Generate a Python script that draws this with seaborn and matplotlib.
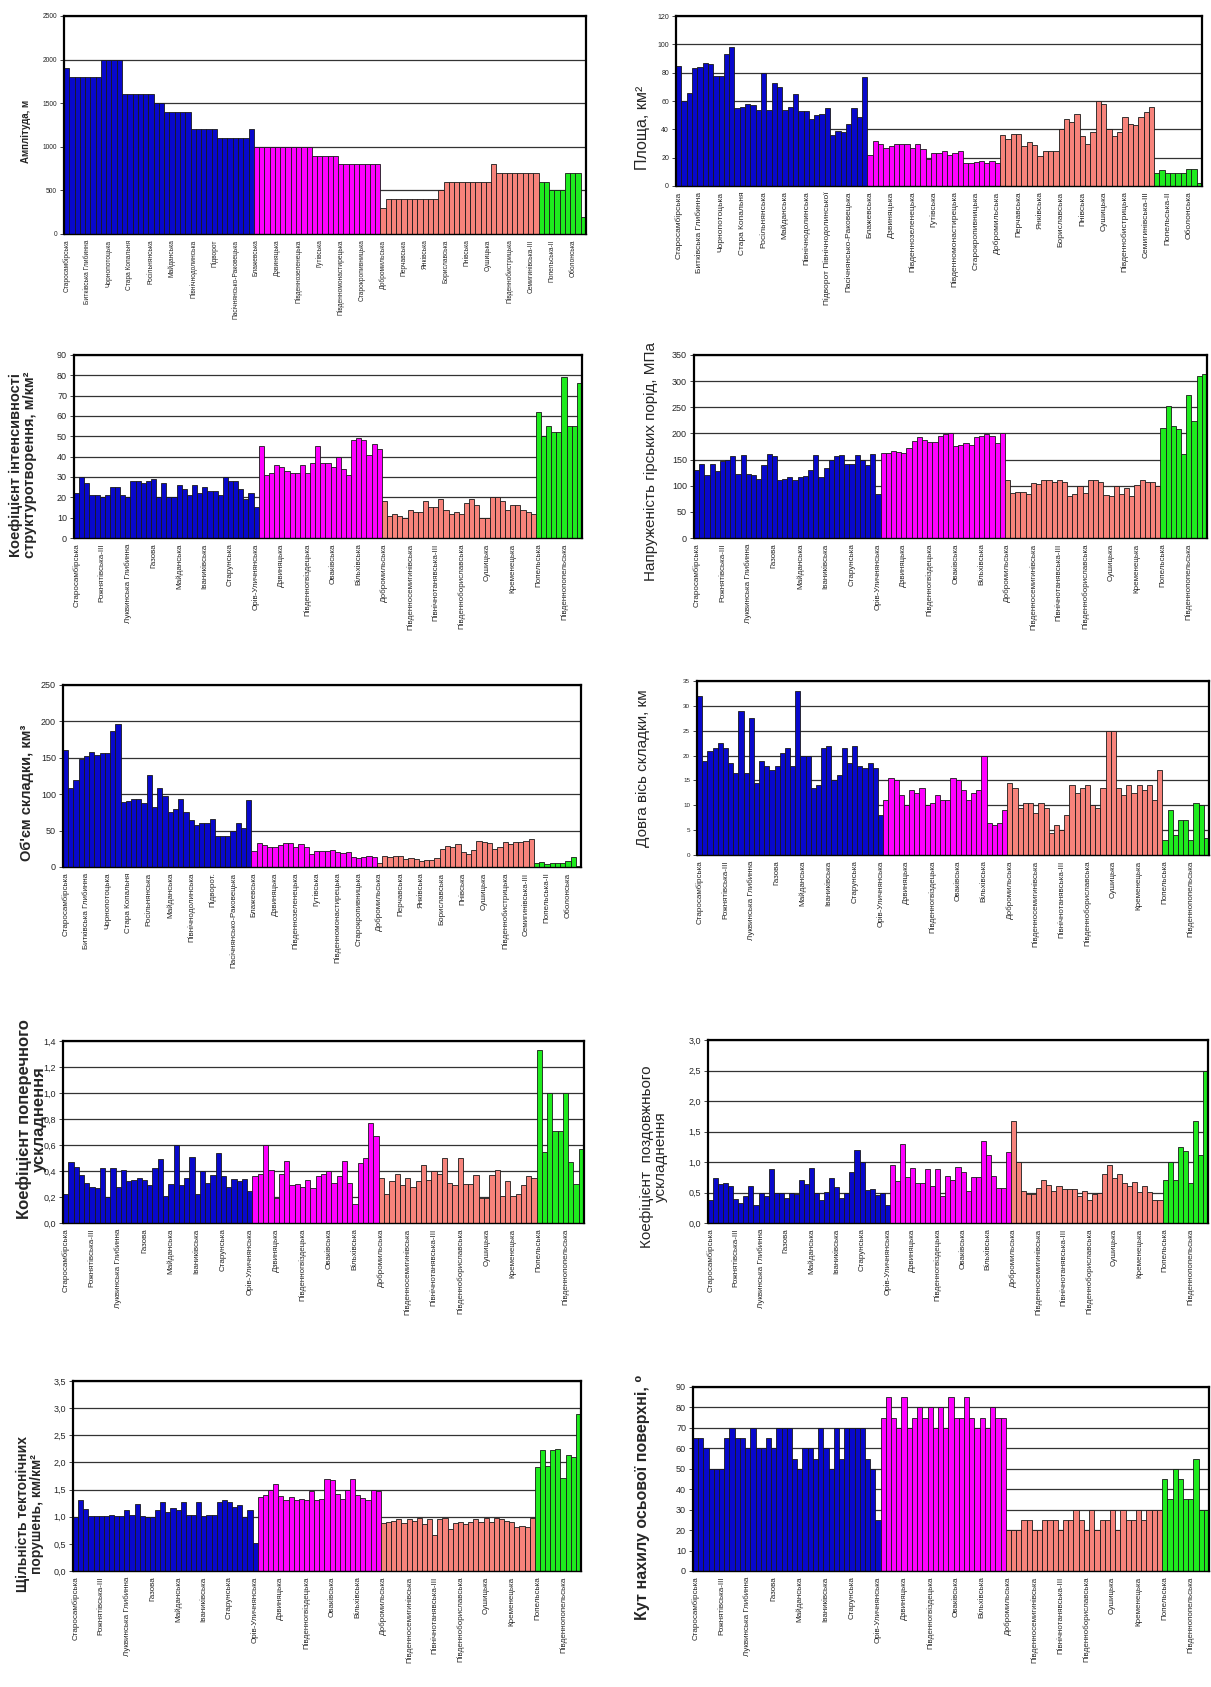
import numpy as np
import pandas as pd
import matplotlib
matplotlib.use("Agg")
import matplotlib.pyplot as plt
import seaborn as sns
from matplotlib.ticker import FuncFormatter

sns.set_style("white")
plt.rcParams['font.family'] = ['Liberation Sans', 'DejaVu Sans']

# --- підписи структур ---
labels_a = ["Старосамбірська", "Битківська Глибинна", "Чорнопотоцька", "Стара Копальня",
            "Росільнянська", "Майданська", "Північнодолинська", "Підворот",
            "Пасічнянсько-Раковецька", "Блажевська", "Дзвиняцька", "Південнозеленецька",
            "Гутівська", "Південномонастирецька", "Старокропивницька", "Добромильська",
            "Перчавська", "Янківська", "Бориславська", "Пнівська", "Сушицька",
            "Південнобистрицька", "Семигинівська-III", "Попельська-II", "Оболонська"]
labels_a2 = labels_a[:7] + ["Підворот Північнодолинської"] + labels_a[8:]
labels_a5 = labels_a[:7] + ["Підворот."] + labels_a[8:]

labels_b = ["Старосамбірська", "Рожнятівська-III", "Луквинська Глибинна", "Газова",
            "Майданська", "Іваниківська", "Старунська", "Орів-Уличнянська", "Дзвиняцька",
            "Південногвіздецька", "Оваківська", "Вільхівська", "Добромильська",
            "Південносемигинівська", "Північнотанявська-III", "Південнобориславська",
            "Сушицька", "Кременецька", "Попельська", "Південнопопельська"]

# кількість структур у зонах (синя, пурпурова, рожева, зелена)
zones = [36, 24, 30, 9]
zones_area = [36, 25, 29, 9]

# --- значення ---
amplitude = [1900, 1800, 1800, 1800, 1800, 1800, 1800, 2000, 2000, 2000, 2000,
             1600, 1600, 1600, 1600, 1600, 1600, 1500, 1500, 1400, 1400, 1400, 1400, 1400,
             1200, 1200, 1200, 1200, 1200, 1100, 1100, 1100, 1100, 1100, 1100, 1200,
             1000, 1000, 1000, 1000, 1000, 1000, 1000, 1000, 1000, 1000, 1000,
             900, 900, 900, 900, 900, 800, 800, 800, 800, 800, 800, 800, 800,
             300, 400, 400, 400, 400, 400, 400, 400, 400, 400, 400, 500,
             600, 600, 600, 600, 600, 600, 600, 600, 600, 800,
             700, 700, 700, 700, 700, 700, 700, 700,
             600, 600, 500, 500, 500, 700, 700, 700, 200]

area = [85, 60, 66, 83, 84, 87, 86, 78, 78, 93, 98, 55, 56, 58, 57, 54, 80, 54, 73, 70,
        54, 56, 65, 53, 53, 47, 50, 51, 55, 36, 39, 38, 44, 55, 49, 77,
        22, 32, 30, 27, 28, 30, 30, 30, 27, 30, 26, 19, 23, 23, 25, 22, 23, 25,
        16, 16, 17, 18, 16, 18, 16,
        36, 33, 37, 37, 28, 31, 29, 21, 25, 25, 25, 40, 47, 45, 51, 35, 30, 38,
        60, 58, 40, 35, 38, 49, 44, 43, 49, 52, 56,
        9, 11, 9, 9, 9, 9, 12, 12, 2]

intensity = [22, 30, 27, 21, 21, 20, 21, 25, 25, 21, 20, 28, 28, 27, 28, 29, 20, 27,
             20, 20, 26, 24, 21, 26, 22, 25, 23, 23, 21, 30, 28, 28, 24, 19, 22, 15,
             45, 31, 32, 36, 35, 33, 32, 32, 36, 32, 37, 45, 37, 37, 35, 40, 34, 31,
             48, 49, 48, 41, 46, 44,
             18, 11, 12, 11, 10, 14, 13, 13, 18, 15, 15, 19, 14, 12, 13, 12, 17, 19,
             16, 10, 10, 20, 20, 18, 14, 16, 16, 14, 13, 12,
             62, 50, 55, 52, 52, 79, 55, 55, 76]

stress = [130, 142, 120, 141, 128, 147, 149, 157, 122, 159, 122, 120, 112, 139, 160,
          157, 110, 112, 116, 110, 116, 118, 130, 159, 117, 134, 150, 157, 159, 142,
          141, 159, 149, 139, 160, 85,
          162, 162, 166, 164, 162, 172, 186, 194, 188, 184, 184, 196, 198, 200, 175,
          178, 181, 178, 193, 196, 198, 196, 181, 201,
          110, 87, 88, 88, 84, 105, 103, 110, 110, 108, 110, 108, 80, 85, 100, 87,
          110, 110, 108, 82, 80, 100, 84, 95, 80, 102, 110, 107, 108, 100,
          211, 253, 214, 208, 161, 274, 223, 310, 313]

volume = [161, 108, 119, 149, 152, 158, 154, 157, 157, 187, 197, 89, 90, 94, 93, 88,
          127, 82, 109, 97, 76, 80, 93, 76, 64, 58, 60, 61, 66, 42, 42, 42, 50, 60, 54, 92,
          22, 33, 30, 28, 28, 30, 33, 33, 28, 31, 27, 18, 22, 22, 22, 23, 21, 19, 21,
          14, 12, 14, 15, 14,
          5, 15, 14, 15, 15, 11, 12, 11, 8, 10, 10, 12, 25, 29, 28, 31, 21, 18, 23,
          36, 35, 33, 25, 27, 35, 32, 35, 35, 36, 39,
          6, 7, 4, 5, 5, 6, 8, 14, 1]

long_axis = [32, 19, 21, 21.5, 22.5, 21.5, 18.5, 16.5, 29, 16.5, 27.5, 14.5, 19, 18, 17,
             18, 20.5, 21.5, 18, 33, 20, 20, 13.5, 14, 21.5, 22, 15, 16, 21.5, 18.5, 22,
             18, 17.5, 18.5, 17.5, 8,
             11, 15.5, 15, 12, 10, 13, 12.5, 13.5, 10, 10.5, 12, 11, 11, 15.5, 15, 13,
             11, 12.5, 13, 20, 6.5, 6, 6.5, 9,
             14.5, 13.5, 9.5, 10.5, 10.5, 8.5, 10.5, 9.5, 4.5, 6, 5, 8, 14, 12.5, 13.5,
             14, 10, 9.5, 13.5, 25, 25, 13.5, 12, 14, 12.5, 14, 13, 14, 11, 17,
             3, 9, 4, 7, 7, 3, 10.5, 10, 3.5]

transverse = [0.22, 0.47, 0.43, 0.37, 0.31, 0.28, 0.27, 0.42, 0.20, 0.42, 0.28, 0.41,
              0.32, 0.33, 0.35, 0.33, 0.29, 0.42, 0.49, 0.21, 0.30, 0.60, 0.29, 0.35,
              0.51, 0.22, 0.40, 0.31, 0.37, 0.54, 0.36, 0.28, 0.34, 0.32, 0.34, 0.25,
              0.36, 0.38, 0.60, 0.41, 0.19, 0.38, 0.48, 0.29, 0.30, 0.28, 0.33, 0.27,
              0.36, 0.38, 0.40, 0.31, 0.36, 0.48, 0.31, 0.15, 0.46, 0.50, 0.77, 0.67,
              0.35, 0.22, 0.32, 0.38, 0.29, 0.35, 0.28, 0.32, 0.45, 0.33, 0.40, 0.38,
              0.50, 0.31, 0.29, 0.50, 0.30, 0.30, 0.37, 0.19, 0.19, 0.37, 0.41, 0.21,
              0.32, 0.21, 0.22, 0.29, 0.36, 0.35,
              1.33, 0.55, 1.00, 0.71, 0.71, 1.00, 0.47, 0.30, 0.57]

longitudinal = [0.37, 0.74, 0.64, 0.65, 0.60, 0.40, 0.32, 0.45, 0.60, 0.29, 0.49, 0.44,
                0.89, 0.49, 0.49, 0.41, 0.49, 0.47, 0.71, 0.64, 0.90, 0.49, 0.37, 0.51,
                0.74, 0.59, 0.41, 0.49, 0.83, 1.20, 1.00, 0.54, 0.56, 0.46, 0.49, 0.30,
                0.95, 0.69, 1.30, 0.75, 0.90, 0.66, 0.66, 0.88, 0.60, 0.89, 0.45, 0.77,
                0.71, 0.91, 0.83, 0.53, 0.76, 0.76, 1.34, 1.11, 0.77, 0.57, 0.58, 1.17,
                1.67, 1.00, 0.52, 0.48, 0.48, 0.58, 0.70, 0.63, 0.53, 0.60, 0.55, 0.56,
                0.56, 0.44, 0.53, 0.37, 0.48, 0.50, 0.80, 0.95, 0.74, 0.80, 0.65, 0.60,
                0.68, 0.51, 0.61, 0.51, 0.38, 0.38,
                0.70, 1.00, 0.71, 1.25, 1.18, 0.65, 1.67, 1.11, 2.50]

density = [1.00, 1.30, 1.15, 1.01, 1.01, 1.01, 1.01, 1.03, 1.02, 1.02, 1.12, 1.03,
           1.23, 1.01, 1.00, 1.00, 1.13, 1.28, 1.09, 1.16, 1.12, 1.27, 1.03, 1.03,
           1.28, 1.01, 1.03, 1.03, 1.28, 1.30, 1.28, 1.18, 1.22, 1.00, 1.12, 0.51,
           1.37, 1.40, 1.50, 1.60, 1.38, 1.30, 1.36, 1.30, 1.33, 1.30, 1.47, 1.30,
           1.32, 1.69, 1.67, 1.42, 1.32, 1.50, 1.69, 1.40, 1.35, 1.30, 1.50, 1.48,
           0.88, 0.90, 0.92, 0.96, 0.88, 0.95, 0.93, 0.98, 0.86, 0.95, 0.66, 0.95,
           0.98, 0.78, 0.88, 0.91, 0.86, 0.91, 0.96, 0.91, 0.98, 0.91, 0.98, 0.95,
           0.93, 0.90, 0.81, 0.83, 0.81, 0.98,
           1.91, 2.22, 1.94, 2.22, 2.25, 1.71, 2.14, 2.10, 2.89]

angle = [65, 65, 60, 50, 50, 50, 65, 70, 65, 65, 60, 70, 60, 60, 65, 60, 70, 70, 70,
         55, 50, 60, 60, 55, 70, 60, 50, 70, 55, 70, 70, 70, 70, 55, 50, 25,
         75, 85, 75, 70, 85, 70, 75, 80, 75, 80, 70, 80, 70, 85, 75, 75, 85, 75, 70,
         75, 70, 80, 75, 75,
         20, 20, 20, 25, 25, 20, 20, 25, 25, 25, 20, 25, 25, 30, 25, 20, 30, 20, 25,
         25, 30, 20, 30, 25, 25, 30, 25, 30, 30, 30,
         45, 35, 50, 45, 35, 35, 55, 30, 30]

palette = {"z1": "#0808CC", "z2": "#FF00FF", "z3": "#F7837B", "z4": "#1EEB1E"}

W, H = 1211, 1687
fig = plt.figure(figsize=(W / 100, H / 100), dpi=100)


def panel(box, values, zone_sizes, labels, step, ymax, ystep, ylabel, lab_size,
          lab_bold, lab_x, lab_y, tick_fs, xfs, decimals=0):
    x0, y0, x1, y1 = box
    ax = fig.add_axes([x0 / W, 1 - y1 / H, (x1 - x0) / W, (y1 - y0) / H])
    n = len(values)
    df = pd.DataFrame({
        "idx": np.arange(n),
        "val": values,
        "zone": np.repeat(["z1", "z2", "z3", "z4"], zone_sizes),
    })
    sns.barplot(data=df, x="idx", y="val", hue="zone", palette=palette, dodge=False,
                width=1.0, saturation=1, edgecolor="#1a1a1a", linewidth=0.6,
                legend=False, ax=ax)
    ax.set_xlim(-0.5, n - 0.5)
    ax.set_ylim(0, ymax)
    ax.set_yticks(np.arange(0, ymax + ystep / 2, ystep))
    if decimals:
        ax.yaxis.set_major_formatter(FuncFormatter(
            lambda v, p: f"{v:.{decimals}f}".replace(".", ",")))
    ax.set_xticks(np.arange(0, n, step)[:len(labels)])
    ax.set_xticklabels(labels, rotation=90, fontsize=xfs)
    ax.set_xticks(np.arange(-0.5, n, 1), minor=True)
    ax.tick_params(axis="x", which="major", length=0, pad=4)
    ax.tick_params(axis="x", which="minor", length=3, width=0.6, color="#222")
    ax.tick_params(axis="y", length=3, width=0.6, labelsize=tick_fs, pad=2, left=True)
    ax.yaxis.grid(True, color="#333333", linewidth=0.9)
    ax.set_axisbelow(True)
    for s in ax.spines.values():
        s.set_color("black")
        s.set_linewidth(1.6)
    ax.spines["bottom"].set_linewidth(1.0)
    ax.set_xlabel("")
    ax.set_ylabel(ylabel, fontsize=lab_size, fontweight="bold" if lab_bold else "normal",
                  va="center", ha="center", linespacing=1.0)
    ax.yaxis.set_label_coords(lab_x, lab_y)
    return ax


panel((64, 16, 586, 234), amplitude, zones, labels_a, 4, 2500, 500,
      "Амплітуда, м", 7, True, -0.073, 0.47, 4.8, 4.8)
panel((676, 16, 1202, 186), area, zones_area, labels_a2, 4, 120, 20,
      "Площа, км²", 11.5, False, -0.063, 0.34, 5, 6)
panel((74, 355, 582, 538), intensity, zones, labels_b, 5, 90, 10,
      "Коефіцієнт інтенсивності\nструктуротворення, м/км²", 10.5, True, -0.10, 0.40, 6.5, 5.8)
panel((694, 355, 1207, 538), stress, zones, labels_b, 5, 350, 50,
      "Напруженість гірських порід, МПа", 11, False, -0.084, 0.42, 6.5, 5.8)
panel((63, 685, 581, 867), volume, zones, labels_a5, 4, 250, 50,
      "Об'єм складки, км³", 10.5, True, -0.07, 0.41, 6.5, 5.8)
panel((697, 681, 1209, 855), long_axis, zones, labels_b, 5, 35, 5,
      "Довга вісь складки, км", 11, False, -0.105, 0.50, 4.5, 5.8)
panel((63, 1041, 584, 1223), transverse, zones, labels_b, 5, 1.4, 0.2,
      "Коефіцієнт поперечного\nускладнення", 12, True, -0.061, 0.57, 6.5, 5.8, decimals=1)
panel((708, 1040, 1208, 1223), longitudinal, zones, labels_b, 5, 3.0, 0.5,
      "Коефіцієнт  поздовжнього\nускладнення", 11, False, -0.108, 0.36, 6.5, 5.8, decimals=1)
panel((73, 1381, 581, 1571), density, zones, labels_b, 5, 3.5, 0.5,
      "Щільність тектонічних\nпорушень, км/км²", 10, True, -0.084, 0.30, 6.5, 5.8, decimals=1)
panel((693, 1387, 1209, 1571), angle, zones, labels_b, 5, 90, 10,
      "Кут нахилу осьової поверхні, ⁰", 11.5, True, -0.098, 0.40, 6.5, 5.8)

fig.savefig("out.png", dpi=100, facecolor="white")
